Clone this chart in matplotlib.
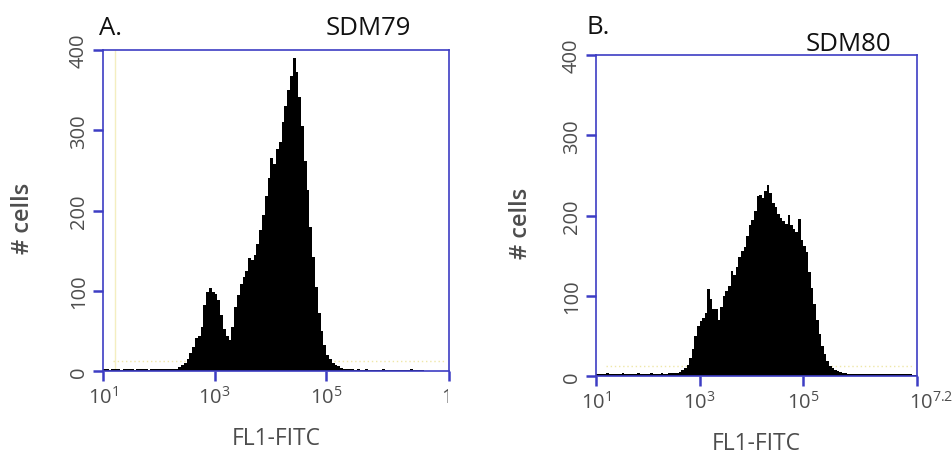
import matplotlib.pyplot as plt
import numpy as np
from matplotlib.ticker import NullLocator
from matplotlib.transforms import Bbox, ScaledTranslation, TransformedBbox

plt.rcParams["font.family"] = ["Open Sans", "DejaVu Sans"]
plt.rcParams["mathtext.fontset"] = "custom"
plt.rcParams["mathtext.rm"] = "Open Sans"
plt.rcParams["mathtext.it"] = "Open Sans:italic"
plt.rcParams["mathtext.bf"] = "Open Sans:bold"

# channel grid in log10(FL1-FITC) units, 0.05 decade per channel
log_edges = np.linspace(1.0, 7.2, 125)

# counts per channel
sdm79_counts = [
    2, 2, 1, 2, 2, 2, 1, 2, 2, 2,
    2, 1, 2, 2, 2, 2, 1, 2, 2, 2,
    2, 2, 2, 2, 2, 3,
    3, 5, 7, 10,
    15, 22, 30, 41, 43, 55, 82, 98, 103, 98,
    96, 88, 70, 52, 43, 39, 55, 80, 95, 108,
    117, 125, 141, 138, 145, 158, 176, 194, 218, 240,
    265, 258, 277, 285, 310, 330, 350, 368, 390, 372,
    342, 305, 262, 225, 180, 142, 105, 72, 50, 32,
    20, 15, 10, 8, 6, 4, 3,
    2, 2, 2, 1, 2, 1, 1, 2, 1, 1,
    1, 1, 1, 2, 1, 1, 1, 1, 1, 1,
    1, 1, 1, 2, 1, 1, 1, 1, 0, 0,
    0, 0, 0, 0, 0, 0, 0,
]
sdm80_counts = [
    3, 2, 3, 3, 4, 3, 2, 3, 3, 3,
    4, 3, 3, 2, 3, 3, 4, 3, 3, 3,
    3, 4, 3, 3, 3, 4, 3, 3, 4, 4,
    4, 4,
    5, 7, 10, 14, 22, 34, 50, 62,
    69, 72, 78, 108, 96, 84, 83, 70, 86, 100,
    106, 112, 131, 126, 136, 148, 156, 161, 175, 188,
    195, 205, 224, 226, 222, 230, 238, 228, 215, 210,
    202, 197, 193, 190, 201, 188, 183, 180, 196, 170,
    162, 155, 130, 110, 90, 70, 52, 38, 28, 19,
    13, 10, 8, 6, 5,
    4, 4, 3, 3, 3, 2, 3, 3, 2, 3,
    3, 2, 2, 3, 2, 2, 3, 2, 2, 3,
    2, 2, 3, 2, 2, 2, 2, 1, 1,
]

x_tick_exponents = ["1", "3", "5", "7.2"]
y_ticks = [0, 100, 200, 300, 400]
panel_letters = ["A.", "B."]
sample_names = ["SDM79", "SDM80"]

SPINE_BLUE = "#3d3dc4"
TEXT_GRAY = "#4d4d4d"
W, H = 953, 456


def px_rect(left, top, right, bottom):
    """Pixel box -> figure fraction rect for add_axes."""
    return [left / W, 1 - bottom / H, (right - left) / W, (bottom - top) / H]


def draw_panel(fig, rect, counts, gate_line=False):
    ax = fig.add_axes(rect)
    ax.stairs(counts, 10 ** log_edges, fill=True, color="black", linewidth=0)

    # faint yellow gate traces visible in the original scan
    if gate_line:
        ax.axvline(10 ** 1.22, color="#f4eec0", lw=1.0, zorder=0)
    ax.axhline(12, xmin=0.03, xmax=0.99, color="#efe7a8", lw=1.0, ls=(0, (1, 2)), zorder=0)

    ax.set_xscale("log")
    ax.set_xlim(10 ** 1.0, 10 ** 7.2)
    ax.set_ylim(0, 400)
    ax.set_xticks([10 ** float(e) for e in x_tick_exponents])
    ax.set_xticklabels([r"$\mathregular{10^{%s}}$" % e for e in x_tick_exponents])
    ax.xaxis.set_minor_locator(NullLocator())
    ax.set_yticks(y_ticks)
    ax.set_yticklabels([str(v) for v in y_ticks])

    for sp in ax.spines.values():
        sp.set_color(SPINE_BLUE)
        sp.set_linewidth(1.2)
    ax.tick_params(axis="both", colors=SPINE_BLUE, labelcolor=TEXT_GRAY,
                   width=1.8, length=7, direction="out", labelsize=14.5)
    ax.tick_params(axis="x", pad=4)
    ax.tick_params(axis="y", labelrotation=90, pad=3)
    for lab in ax.get_yticklabels():
        lab.set_verticalalignment("center")

    ax.set_xlabel("FL1-FITC", fontsize=16.5, color=TEXT_GRAY)
    ax.set_ylabel("# cells", fontsize=17, color=TEXT_GRAY, fontweight="semibold")
    ax.xaxis.set_label_coords(0.5, -0.17)
    ax.yaxis.set_label_coords(-0.197, 0.48)

    # the 10^7.2 label sits just right of its tick
    last = ax.get_xticklabels()[-1]
    last.set_horizontalalignment("left")
    last.set_transform(last.get_transform() + ScaledTranslation(-0.08, 0, fig.dpi_scale_trans))
    return ax


fig = plt.figure(figsize=(W / 100, H / 100), dpi=100)

ax_a = draw_panel(fig, px_rect(103, 51, 449, 372), sdm79_counts, gate_line=True)
ax_b = draw_panel(fig, px_rect(596, 56, 917, 377), sdm80_counts)

# panel A's right-most label is cut off at the edge of its image
cut = ax_a.get_xticklabels()[-1]
cut.set_clip_on(True)
cut.set_clip_box(TransformedBbox(Bbox([[0, 0], [448 / W, 1]]), fig.transFigure))

fig.text(99 / W, 1 - 35 / H, panel_letters[0], fontsize=18.5, color="#111111")
fig.text(368 / W, 1 - 35 / H, sample_names[0], fontsize=18.5, color="#111111", ha="center")
fig.text(587 / W, 1 - 34 / H, panel_letters[1], fontsize=18.5, color="#111111")
fig.text(848 / W, 1 - 51 / H, sample_names[1], fontsize=18.5, color="#111111", ha="center")

fig.savefig("out.png", dpi=100)
